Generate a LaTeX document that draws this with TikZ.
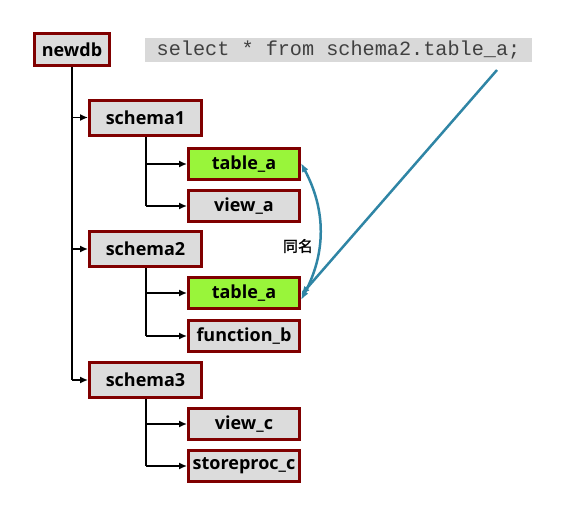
\documentclass[tikz,border=0pt]{standalone}
\usepackage{fontspec}
\setmainfont{Open Sans}
\newfontfamily\cjk{Noto Sans CJK SC}[FakeBold=1.5]
\newfontfamily\monof{Liberation Mono}
\usetikzlibrary{arrows.meta}
\definecolor{brd}{HTML}{800000}
\definecolor{gfill}{HTML}{DCDCDC}
\definecolor{lime}{HTML}{99F53A}
\definecolor{bl}{HTML}{2F85A5}
\definecolor{sqlbg}{HTML}{D9D9D9}
\tikzset{
  box/.style={draw=brd, line width=3pt, fill=gfill, inner sep=0pt,
    font=\fontsize{18}{20}\selectfont\bfseries, text=black},
  rootbox/.style={box, minimum width=75pt, minimum height=32pt},
  schbox/.style={box, minimum width=112pt, minimum height=35pt},
  objbox/.style={box, minimum width=111pt, minimum height=31pt},
  greenbox/.style={objbox, fill=lime},
  trunk/.style={line width=1.5pt},
  tree/.style={line width=1.5pt, -{Latex[length=8pt,width=7pt]}},
  blue/.style={draw=bl, line width=2.5pt},
}
\begin{document}
\begin{tikzpicture}[x=1pt,y=-1pt]
\useasboundingbox (0,0) rectangle (575,511);
\node[rootbox] (newdb) at (72,49.5) {newdb};
\node[fill=sqlbg, minimum width=387pt, minimum height=24pt, inner sep=0pt,
  text=black!75, font=\monof\fontsize{20.2}{22}\selectfont] (sql) at (338.5,50) {select * from schema2.table\_a;};
\node[schbox] (s1) at (145.5,117.5) {schema1};
\node[greenbox] (t1) at (244,164) {table\_a};
\node[objbox] (v1) at (244,206) {view\_a};
\node[schbox] (s2) at (145.5,249) {schema2};
\node[greenbox] (t2) at (244,293) {table\_a};
\node[objbox] (f2) at (244,336) {function\_b};
\node[schbox] (s3) at (145.5,380) {schema3};
\node[objbox] (v3) at (244,424) {view\_c};
\node[objbox] (p3) at (244,466) {storeproc\_c};
\coordinate (r) at (72,0);
\coordinate (c) at (146,0);
% root trunk
\draw[trunk] (newdb.south) -- (r |- s3.west);
\draw[tree] (r |- s1.west) -- (s1.west);
\draw[tree] (r |- s2.west) -- (s2.west);
\draw[tree] (r |- s3.west) -- (s3.west);
% schema trunks
\draw[trunk] (c |- s1.south) -- (c |- v1.west);
\draw[tree] (c |- t1.west) -- (t1.west);
\draw[tree] (c |- v1.west) -- (v1.west);
\draw[trunk] (c |- s2.south) -- (c |- f2.west);
\draw[tree] (c |- t2.west) -- (t2.west);
\draw[tree] (c |- f2.west) -- (f2.west);
\draw[trunk] (c |- s3.south) -- (c |- p3.west);
\draw[tree] (c |- v3.west) -- (v3.west);
\draw[tree] (c |- p3.west) -- (p3.west);
% blue
\coordinate (q) at (497,70);
\draw[blue, {Latex[length=9pt,width=7pt]}-{Latex[length=9pt,width=7pt]}] ([yshift=1pt]t1.east) to[bend left=28] ([yshift=-7pt]t2.east);
\draw[blue, -{Latex[length=9pt,width=7pt]}] (q) -- ([yshift=-2pt]t2.east);
\node[font=\cjk\fontsize{15}{17}\selectfont] (lbl) at (298,246) {同名};
\end{tikzpicture}
\end{document}
